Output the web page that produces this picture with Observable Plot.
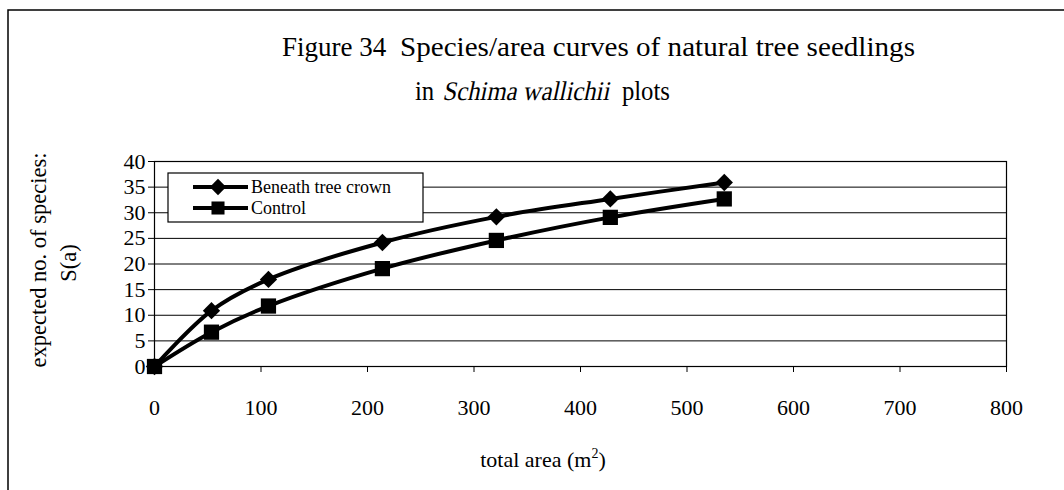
<!DOCTYPE html>
<html>
<head>
<meta charset="utf-8">
<script src="https://cdn.jsdelivr.net/npm/d3@7"></script>
<script src="https://cdn.jsdelivr.net/npm/@observablehq/plot@0.6"></script>
<style>
  html, body { margin: 0; padding: 0; background: #fff; overflow: hidden; }
  #chart { width: 1064px; height: 490px; }
  svg text, svg tspan { font-family: "Liberation Serif", "Times New Roman", serif; }
</style>
</head>
<body>
<div id="chart"></div>
<script>
// ---- data ----
const areas = [0, 53.5, 107, 214, 321, 428, 535];
const beneath = [0, 10.9, 17, 24.2, 29.2, 32.7, 35.9];
const control = [0, 6.7, 11.8, 19.1, 24.6, 29.1, 32.7];
const seriesNames = ["Beneath tree crown", "Control"];
const xTicks = [0, 100, 200, 300, 400, 500, 600, 700, 800];
const yTicks = [0, 5, 10, 15, 20, 25, 30, 35, 40];
const titleFig = "Figure 34";
const titleLine1 = "Species/area curves of natural tree seedlings";
const titleLine2 = ["in ", "Schima wallichii", "plots"];
const yLabel1 = "expected no. of species:";
const yLabel2 = "S(a)";
const xLabel = ["total area (m", "2", ")"];

const rows = [];
areas.forEach((a, i) => rows.push({area: a, s: beneath[i], series: seriesNames[0]}));
areas.forEach((a, i) => rows.push({area: a, s: control[i], series: seriesNames[1]}));
const rowsB = rows.filter(d => d.series === seriesNames[0]);
const rowsC = rows.filter(d => d.series === seriesNames[1]);

const FONT = "Liberation Serif";

const plot = Plot.plot({
  width: 1064,
  height: 490,
  marginLeft: 154,
  marginRight: 58,
  marginTop: 161,
  marginBottom: 124,
  style: {fontFamily: FONT, fontSize: "22px", color: "black", background: "white", overflow: "visible"},
  x: {domain: [0, 800]},
  y: {domain: [0, 40]},
  marks: [
    Plot.gridY(yTicks, {stroke: "black", strokeOpacity: 1, strokeWidth: 1}),
    Plot.frame({stroke: "black", strokeWidth: 1.2}),
    Plot.axisX({ticks: xTicks, tickSize: 6, tickPadding: 27, label: null, fontSize: 22}),
    Plot.axisY({ticks: yTicks, tickSize: 6, tickPadding: 3, label: null, fontSize: 22}),
    Plot.line(rows, {x: "area", y: "s", z: "series", stroke: "black", strokeWidth: 4, curve: "catmull-rom"}),
    Plot.dot(rowsB, {x: "area", y: "s", symbol: "diamond2", r: 7.8, fill: "black", stroke: null}),
    Plot.dot(rowsC, {x: "area", y: "s", symbol: "square", r: 8.6, fill: "black", stroke: null})
  ]
});

document.getElementById("chart").appendChild(plot);
const svg = d3.select(plot);

// outer frame
svg.append("path").attr("d", "M8,500V10H1070").attr("fill", "none").attr("stroke", "black").attr("stroke-width", 1.5);

// title line 1
const t = svg.append("g").attr("font-size", 27).attr("fill", "black").attr("text-anchor", "start");
t.append("text").attr("x", 282).attr("y", 56).text(titleFig);
t.append("text").attr("x", 400).attr("y", 56).attr("textLength", 515).attr("lengthAdjust", "spacingAndGlyphs").text(titleLine1);

// title line 2 (italic species name drawn with a slanted serif)
const g2 = t.append("g");
const p1 = g2.append("text").attr("x", 0).attr("y", 0).text(titleLine2[0]);
let cx = p1.node().getComputedTextLength() + 2;
const p2 = g2.append("text").attr("y", 0).attr("transform", `translate(${cx},0) skewX(-13)`).text(titleLine2[1]);
cx += p2.node().getComputedTextLength() + 14;
const p3 = g2.append("text").attr("x", cx).attr("y", 0).text(titleLine2[2]);
cx += p3.node().getComputedTextLength();
const targetW = 255;
g2.attr("transform", `translate(415,100) scale(${targetW / cx},1)`);

// y axis title
const yl = svg.append("g").attr("font-size", 22.5).attr("fill", "black").attr("text-anchor", "middle");
yl.append("text").attr("transform", "translate(38,260) rotate(-90)").attr("dy", "0.35em").text(yLabel1);
yl.append("text").attr("transform", "translate(68,263) rotate(-90)").attr("dy", "0.35em").text(yLabel2);

// x axis title
const xl = svg.append("text").attr("font-size", 22).attr("fill", "black")
  .attr("x", 543).attr("y", 467).attr("text-anchor", "middle");
xl.append("tspan").text(xLabel[0]);
xl.append("tspan").attr("font-size", 14).attr("dy", -9).text(xLabel[1]);
xl.append("tspan").attr("dy", 9).text(xLabel[2]);

// legend
const lg = svg.append("g").attr("font-size", 18).attr("text-anchor", "start");
lg.append("rect").attr("x", 168).attr("y", 173).attr("width", 255).attr("height", 49)
  .attr("fill", "white").attr("stroke", "black").attr("stroke-width", 1.2);
const legRows = [{y: 187, sym: d3.symbolDiamond2, size: 170}, {y: 208, sym: d3.symbolSquare, size: 170}];
legRows.forEach((r, i) => {
  lg.append("line").attr("x1", 193).attr("x2", 248).attr("y1", r.y).attr("y2", r.y)
    .attr("stroke", "black").attr("stroke-width", 4);
  lg.append("path").attr("transform", `translate(218,${r.y})`).attr("d", d3.symbol(r.sym, r.size)()).attr("fill", "black");
  lg.append("text").attr("x", 251).attr("y", r.y).attr("dy", "0.33em").text(seriesNames[i]);
});
</script>
</body>
</html>
